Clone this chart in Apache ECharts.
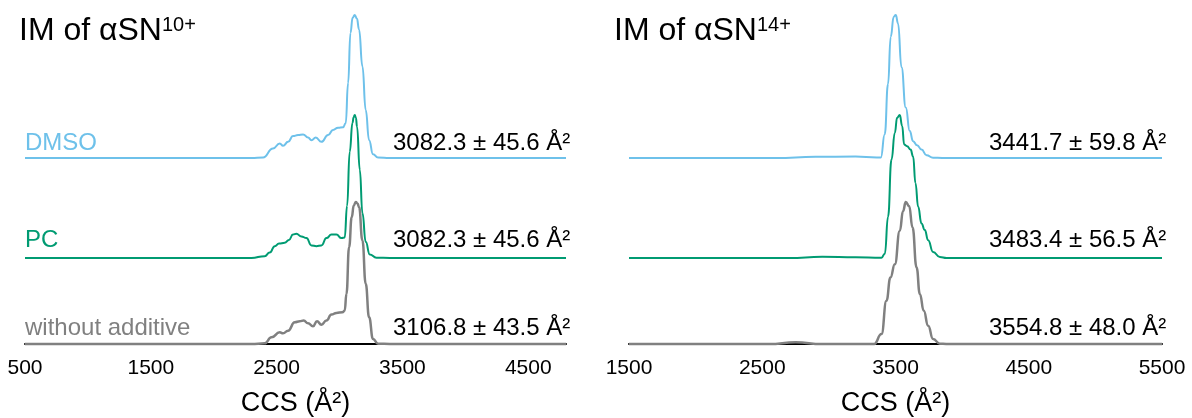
<!DOCTYPE html>
<html><head><meta charset="utf-8">
<script src="https://cdn.jsdelivr.net/npm/echarts@6/dist/echarts.min.js"></script>
<style>html,body{margin:0;padding:0;background:#fff}#c{width:1192px;height:418px}</style>
</head><body><div id="c"></div>
<script>
// ---------- data ----------
const leftTicks = [500, 1500, 2500, 3500, 4500];
const leftMax = 4800;
const rightTicks = [1500, 2500, 3500, 4500, 5500];
const samples = ['DMSO', 'PC', 'without additive'];
const leftCCS = ['3082.3 ± 45.6 Å²', '3082.3 ± 45.6 Å²', '3106.8 ± 43.5 Å²'];
const rightCCS = ['3441.7 ± 59.8 Å²', '3483.4 ± 56.5 Å²', '3554.8 ± 48.0 Å²'];
const titleMain = ['IM of αSN', 'IM of αSN'];
const titleCharge = ['10+', '14+'];
const axisTitle = 'CCS (Å²)';

// normalised intensity vs CCS (Å²), alpha-synuclein 10+
const dmso10 = [[500,0],[2300,0],[2392,0.003],[2471,0.066],[2525,0.101],[2551,0.085],[2591,0.113],[2630,0.153],
  [2670,0.160],[2710,0.165],[2750,0.143],[2777,0.125],[2811,0.143],[2856,0.113],[2909,0.160],[2948,0.196],
  [2988,0.212],[3028,0.215],[3049,0.243],[3068,0.524],[3087,0.876],[3104,0.98],[3121,1.0],[3138,0.975],[3155,0.899],[3182,0.641],
  [3208,0.336],[3235,0.125],[3266,0.026],[3306,0.003],[3400,0],[4800,0]];
const pc10 = [[500,0],[2300,0],[2405,0.013],[2445,0.038],[2485,0.083],[2519,0.101],[2564,0.106],[2598,0.126],
  [2630,0.164],[2657,0.169],[2697,0.151],[2737,0.139],[2777,0.088],[2816,0.083],[2856,0.088],[2896,0.139],
  [2936,0.164],[2975,0.164],[3015,0.139],[3041,0.144],[3060,0.365],[3081,0.743],[3103,0.945],[3112,0.985],[3121,1.0],[3130,0.98],
  [3139,0.92],[3161,0.617],[3182,0.315],[3208,0.113],[3240,0.025],[3293,0.002],[3400,0],[4800,0]];
const none10 = [[500,0],[2300,0],[2405,0.005],[2459,0.047],[2525,0.082],[2551,0.075],[2591,0.094],[2644,0.153],
  [2684,0.160],[2715,0.165],[2750,0.146],[2789,0.125],[2821,0.160],[2856,0.136],[2896,0.165],[2936,0.207],
  [2975,0.219],[3023,0.224],[3041,0.235],[3055,0.353],[3076,0.682],[3097,0.894],[3113,0.975],[3129,1.0],[3143,0.99],[3155,0.965],
  [3182,0.729],[3208,0.424],[3235,0.188],[3266,0.035],[3306,0.002],[3400,0],[4800,0]];

// alpha-synuclein 14+
const dmso14 = [[1500,0],[2600,0],[2900,0.008],[3200,0.01],[3360,0.004],[3390,0.003],[3419,0.165],[3444,0.518],
  [3464,0.847],[3487,0.988],[3502,1.0],[3519,0.941],[3545,0.635],[3577,0.353],[3607,0.188],[3632,0.118],
  [3662,0.089],[3695,0.059],[3733,0.019],[3782,0.002],[3850,0],[5500,0]];
const pc14 = [[1500,0],[2700,0],[2950,0.008],[3200,0.005],[3395,0.002],[3420,0.03],[3444,0.289],[3470,0.688],
  [3495,0.876],[3512,0.981],[3532,1.0],[3550,0.923],[3565,0.793],[3587,0.782],[3613,0.758],[3632,0.711],
  [3650,0.523],[3670,0.359],[3695,0.242],[3720,0.195],[3745,0.124],[3782,0.042],[3833,0.007],[3883,0],[5500,0]];
const none14 = [[1500,0],[2550,0],[2750,0.012],[2950,0],[3340,0],[3395,0.07],[3432,0.304],[3462,0.468],
  [3495,0.562],[3532,0.796],[3557,0.937],[3577,1.0],[3602,0.972],[3628,0.82],[3658,0.539],[3683,0.351],
  [3712,0.234],[3745,0.129],[3782,0.035],[3833,0.002],[3880,0],[5500,0]];

// ---------- chart ----------
const FONT = 'Liberation Sans, Arial, sans-serif';
const colors = ['#6EC1EA', '#009B72', '#808080'];
const widths = [2, 2, 2.5];
const rowTop = [15, 115, 202];
const rowH = 143;
const panels = [
  {left: 25, width: 541, min: leftTicks[0], max: leftMax, interval: leftTicks[1] - leftTicks[0],
   data: [dmso10, pc10, none10], ccs: leftCCS, annX: 393},
  {left: 629, width: 533, min: rightTicks[0], max: rightTicks[rightTicks.length - 1], interval: rightTicks[1] - rightTicks[0],
   data: [dmso14, pc14, none14], ccs: rightCCS, annX: 989}
];
const grid = [], xAxis = [], yAxis = [], series = [], graphic = [];
const rowTextY = [145, 242, 330];
panels.forEach((p, pi) => {
  for (let r = 0; r < 3; r++) {
    const idx = grid.length;
    grid.push({left: p.left, width: p.width, top: rowTop[r], height: rowH, containLabel: false});
    const bottom = r === 2;
    xAxis.push({
      gridIndex: idx, type: 'value', min: p.min, max: p.max, interval: p.interval,
      show: bottom,
      axisLine: {show: true, lineStyle: {color: '#000', width: 2}},
      axisTick: {show: false}, splitLine: {show: false},
      axisLabel: {show: true, showMaxLabel: pi === 1, color: '#000', fontSize: 21, fontFamily: FONT, margin: 14,
        formatter: v => String(v)},
      name: axisTitle, nameLocation: 'middle', nameGap: 46,
      nameTextStyle: {color: '#000', fontSize: 27, fontFamily: FONT}
    });
    yAxis.push({gridIndex: idx, type: 'value', min: 0, max: 1, show: false});
    series.push({
      type: 'line', xAxisIndex: idx, yAxisIndex: idx, data: p.data[r],
      showSymbol: false, smooth: 0.5, smoothMonotone: 'x', clip: false, silent: true,
      lineStyle: {color: colors[r], width: widths[r]}, z: 3 + r
    });
    graphic.push({type: 'text', left: p.annX, top: rowTextY[r] - 14,
      style: {text: p.ccs[r], fill: '#000', font: '24px ' + FONT}});
    if (pi === 0) {
      graphic.push({type: 'text', left: 25, top: rowTextY[r] - 14,
        style: {text: samples[r], fill: colors[r], font: '24px ' + FONT}});
    }
  }
  graphic.push({type: 'text', left: pi === 0 ? 19 : 614, top: 15,
    style: {text: '{m|' + titleMain[pi] + '}{s|' + titleCharge[pi] + '}',
      rich: {m: {fontSize: 32, fontFamily: FONT, fill: '#000', lineHeight: 37, verticalAlign: 'top'},
             s: {fontSize: 20, fontFamily: FONT, fill: '#000', lineHeight: 24, verticalAlign: 'top'}}}});
});

const chart = echarts.init(document.getElementById('c'), null, {renderer: 'canvas'});
chart.setOption({animation: false, backgroundColor: '#fff', grid, xAxis, yAxis, series, graphic});
</script></body></html>
